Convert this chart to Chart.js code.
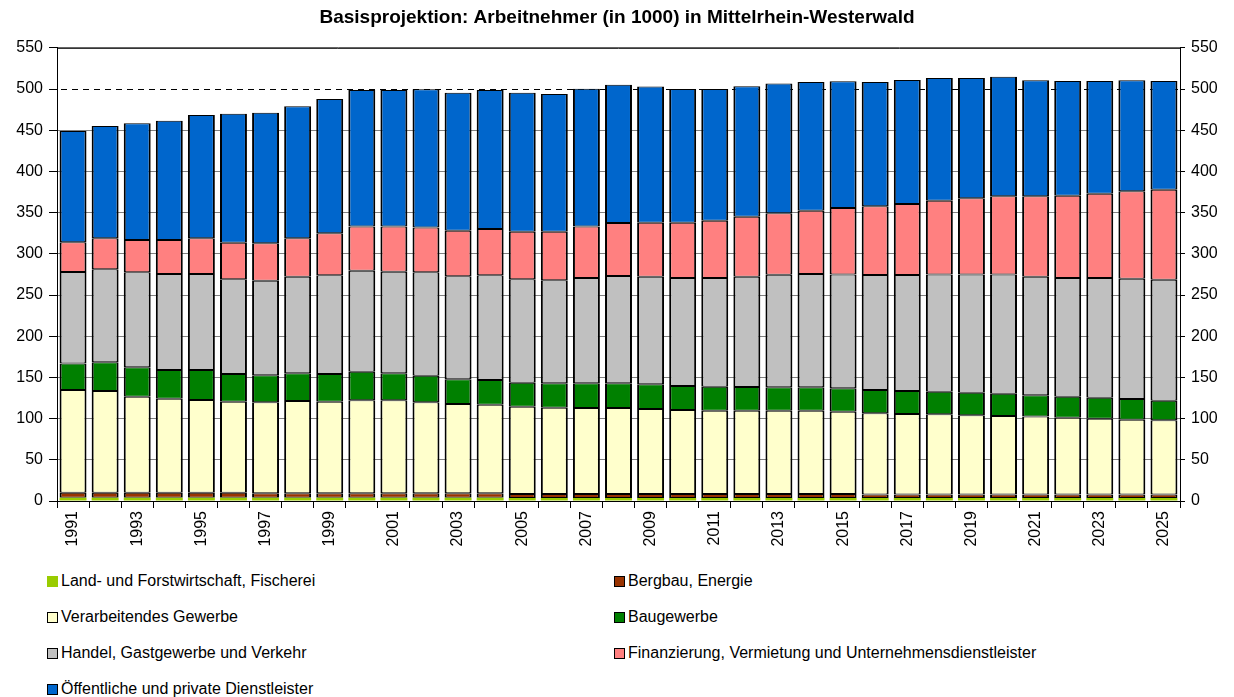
<!DOCTYPE html>
<html>
<head>
<meta charset="utf-8">
<script src="https://cdn.jsdelivr.net/npm/chart.js@4/dist/chart.umd.min.js"></script>
<style>
  body { margin: 0; background: #fff; font-family: "Liberation Sans", Arial, sans-serif; }
  #wrap { position: relative; width: 1234px; height: 697px; }
  #legend { position: absolute; left: 47px; top: 571px; width: 1180px;
            display: grid; grid-template-columns: 567px auto; row-gap: 16px; }
  .item { display: flex; align-items: center; height: 20px; font-size: 16px; color: #000; }
  .box { width: 9px; height: 9px; border: 1.5px solid #000; margin-right: 3px; flex: none; }
</style>
</head>
<body>
<div id="wrap">
  <canvas id="chart" width="1234" height="560"></canvas>
  <div id="legend"></div>
</div>
<script>
// Arbeitnehmer (in 1000) nach Wirtschaftsbereichen, 1991-2025
const years = [];
for (let y = 1991; y <= 2025; y++) years.push(String(y));

const landwirtschaft = [4, 4, 4, 4, 4, 4, 4, 4, 4, 4, 4, 4, 4, 4, 3.5, 3.5, 3.5, 3.5, 3.5, 3.5,
  3.5, 3.5, 3.5, 3.5, 3.5, 3.5, 3.5, 3.5, 3.5, 3.5, 3.5, 3.5, 3.5, 3.5, 3.5];
const bergbau = [6, 6, 6, 6, 6, 6, 5.5, 5.5, 5.5, 5.5, 5.5, 5.5, 5.5, 5.5, 5, 5, 5, 5, 5, 5,
  5, 5, 5, 5, 5, 4.5, 4.5, 4.5, 4.5, 4.5, 4.5, 4.5, 4.5, 4.5, 4.5];
const verarbeitendes = [124.7, 123.5, 116.6, 114.2, 112.6, 110.5, 110.3, 111.9, 111.0, 112.7,
  112.7, 110.3, 108.2, 107.4, 106.0, 104.8, 104.5, 104.5, 103.1, 101.9,
  101.1, 101.1, 101.1, 101.1, 99.9, 98.4, 97.6, 97.2, 96.0, 95.2,
  94.4, 93.0, 91.9, 90.7, 89.9];
const baugewerbe = [32.3, 34.8, 35.6, 34.8, 36.4, 33.6, 32.7, 33.6, 33.6, 34.8,
  32.8, 32.2, 30.0, 29.9, 29.1, 29.5, 29.8, 29.8, 30.0, 29.2,
  29.2, 28.8, 28.4, 28.4, 28.3, 28.3, 27.9, 27.5, 27.5, 27.1,
  25.8, 25.6, 25.5, 25.1, 23.9];
const handel = [111.0, 112.9, 115.3, 116.5, 116.5, 114.9, 114.9, 117.2, 119.8, 122.5,
  123.3, 125.5, 125.0, 127.2, 125.4, 125.2, 127.8, 130.2, 130.4, 131.0,
  131.8, 133.6, 136.7, 137.5, 138.3, 139.6, 140.8, 142.3, 143.5, 144.7,
  144.0, 144.0, 145.2, 146.0, 146.8];
const finanzierung = [36.0, 37.6, 39.2, 41.2, 43.3, 44.5, 45.3, 46.6, 51.0, 53.5,
  54.7, 54.5, 55.3, 56.0, 57.9, 58.9, 62.4, 64.4, 65.8, 67.2,
  69.6, 73.0, 74.4, 76.8, 80.6, 83.3, 86.1, 89.4, 92.3, 94.8,
  97.6, 100.0, 102.4, 106.0, 109.2];
const dienstleister = [135.0, 136.2, 141.6, 144.8, 149.6, 156.5, 158.6, 160.2, 163.0, 165.8,
  165.8, 167.6, 167.6, 168.8, 168.7, 167.1, 167.4, 167.9, 165.1, 162.2,
  159.8, 158.2, 157.7, 156.2, 153.7, 150.9, 150.6, 148.9, 146.0, 145.1,
  140.7, 139.1, 136.7, 134.7, 131.9];

const seriesNames = [
  'Land- und Forstwirtschaft, Fischerei',
  'Bergbau, Energie',
  'Verarbeitendes Gewerbe',
  'Baugewerbe',
  'Handel, Gastgewerbe und Verkehr',
  'Finanzierung, Vermietung und Unternehmensdienstleister',
  'Öffentliche und private Dienstleister'
];
const seriesValues = [landwirtschaft, bergbau, verarbeitendes, baugewerbe, handel, finanzierung, dienstleister];
const seriesColors = ['#99cc00', '#993300', '#ffffcc', '#008000', '#c0c0c0', '#ff8080', '#0066cc'];

// dashed reference line
const referenceValue = 500;

const FONT = '"Liberation Sans", Arial, sans-serif';

const datasets = seriesNames.map((name, i) => ({
  label: name,
  data: seriesValues[i],
  backgroundColor: seriesColors[i],
  borderColor: '#000',
  borderWidth: i === 0 ? 0 : { left: 2, right: 2, top: 1, bottom: 1 },
  borderSkipped: false,
  inflateAmount: 0,
  barPercentage: 0.84,
  categoryPercentage: 1
}));

// frame on top + dashed line at the reference value
const framePlugin = {
  id: 'frame',
  beforeDatasetsDraw(chart) {
    const { ctx, chartArea, scales } = chart;
    const y = Math.round(scales.y.getPixelForValue(referenceValue)) + 0.5;
    ctx.save();
    ctx.strokeStyle = '#000';
    ctx.lineWidth = 1;
    ctx.setLineDash([6, 5]);
    ctx.beginPath();
    ctx.moveTo(chartArea.left + 4, y);
    ctx.lineTo(chartArea.right, y);
    ctx.stroke();
    ctx.restore();
  },
  afterDraw(chart) {
    const { ctx, chartArea } = chart;
    ctx.save();
    ctx.strokeStyle = '#000';
    ctx.lineWidth = 1;
    ctx.beginPath();
    ctx.moveTo(chartArea.left, chartArea.top + 0.5);
    ctx.lineTo(chartArea.right, chartArea.top + 0.5);
    ctx.stroke();
    ctx.restore();
  }
};

const chart = new Chart(document.getElementById('chart'), {
  type: 'bar',
  data: { labels: years, datasets: datasets },
  options: {
    responsive: false,
    animation: false,
    layout: { padding: { left: 0, right: 0, top: 0, bottom: 0 } },
    plugins: {
      legend: { display: false },
      tooltip: { enabled: false },
      title: {
        display: true,
        text: 'Basisprojektion: Arbeitnehmer (in 1000) in Mittelrhein-Westerwald',
        color: '#000',
        font: { family: FONT, size: 19, weight: 'bold' },
        padding: { top: 6, bottom: 19 }
      }
    },
    scales: {
      x: {
        stacked: true,
        grid: { offset: true, drawOnChartArea: false, drawTicks: true, tickLength: 7, color: '#000' },
        border: { color: '#000', width: 1 },
        ticks: {
          autoSkip: false,
          maxRotation: 90,
          minRotation: 90,
          padding: 3,
          color: '#000',
          font: { family: FONT, size: 16 },
          callback: (v, i) => (i % 2 === 0 ? years[i] : '')
        },
        afterFit: s => { s.height = 59; }
      },
      y: {
        stacked: true,
        min: 0,
        max: 550,
        ticks: { stepSize: 50, padding: 6, color: '#000', font: { family: FONT, size: 16 } },
        grid: {
          color: c => (c.tick && c.tick.value === referenceValue ? 'rgba(0,0,0,0)' : '#808080'),
          tickColor: '#000',
          lineWidth: 1,
          tickLength: 8,
          drawOnChartArea: true
        },
        border: { color: '#000', width: 1 },
        afterFit: s => { s.width = 57; }
      },
      y2: {
        type: 'linear',
        position: 'right',
        min: 0,
        max: 550,
        ticks: { stepSize: 50, padding: 6, color: '#000', font: { family: FONT, size: 16 } },
        grid: { color: '#000', drawOnChartArea: false, tickLength: 5 },
        border: { color: '#000', width: 1 },
        afterFit: s => { s.width = 54; }
      }
    }
  },
  plugins: [framePlugin]
});

// legend in two columns, built from the chart datasets
const legendEl = document.getElementById('legend');
chart.data.datasets.forEach((ds, i) => {
  const item = document.createElement('div');
  item.className = 'item';
  const box = document.createElement('span');
  box.className = 'box';
  box.style.background = ds.backgroundColor;
  if (i === 0) box.style.borderColor = ds.backgroundColor;
  const txt = document.createElement('span');
  txt.textContent = ds.label;
  item.appendChild(box);
  item.appendChild(txt);
  legendEl.appendChild(item);
});
</script>
</body>
</html>
